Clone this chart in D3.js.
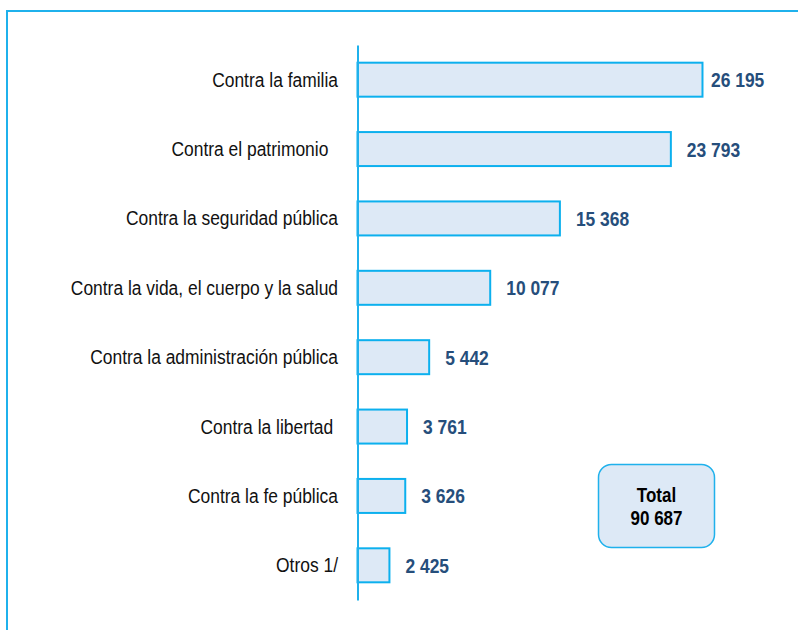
<!DOCTYPE html>
<html><head><meta charset="utf-8">
<script src="https://cdn.jsdelivr.net/npm/d3@7"></script>
<style>html,body{margin:0;padding:0;background:#fff;}svg{display:block;}</style>
</head><body>
<svg id="chart" width="798" height="630"></svg>
<script>
const categories = ["Contra la familia", "Contra el patrimonio  ", "Contra la seguridad pública", "Contra la vida, el cuerpo y la salud", "Contra la administración pública", "Contra la libertad ", "Contra la fe pública", "Otros 1/"];
const values = [26195, 23793, 15368, 10077, 5442, 3761, 3626, 2425];
const valueLabels = ["26 195", "23 793", "15 368", "10 077", "5 442", "3 761", "3 626", "2 425"];
const totalLines = ["Total", "90 687"];

const svg = d3.select("#chart");
const blue = "#1fb1ec";

// frame
svg.append("rect").attr("x", 7).attr("y", 11).attr("width", 820).attr("height", 660)
  .attr("fill", "none").attr("stroke", blue).attr("stroke-width", 2);

const x = d3.scaleLinear().domain([0, 30000]).range([357.5, 752.6]);
const y = d3.scaleBand().domain(categories).range([45, 600]).paddingInner(0.51).paddingOuter(0.255);

const font = "'Liberation Sans', Arial, sans-serif";

// bars
svg.append("g").selectAll("rect").data(values).join("rect")
  .attr("x", x(0))
  .attr("y", (d, i) => y(categories[i]))
  .attr("width", d => x(d) - x(0))
  .attr("height", y.bandwidth())
  .attr("fill", "#dde9f6").attr("stroke", "#0cb0ee").attr("stroke-width", 2);

// axis line
const axis = d3.axisLeft(y).tickSize(0).tickFormat("");
const ag = svg.append("g").attr("transform", `translate(${x(0)},0)`).call(axis);
ag.select(".domain").attr("stroke", blue).attr("stroke-width", 2);

// category labels (narrow)
svg.append("g").selectAll("text").data(categories).join("text")
  .attr("transform", d => `translate(338,${y(d) + y.bandwidth() / 2 + 7}) scale(0.83,1)`)
  .attr("text-anchor", "end")
  .style("white-space", "pre")
  .attr("font-family", font).attr("font-size", 21).attr("fill", "#111")
  .text(d => d);

// value labels
const labelMaxX = 711;
svg.append("g").selectAll("text").data(values).join("text")
  .attr("transform", (d, i) => `translate(${Math.min(x(d) + 16, labelMaxX)},${y(categories[i]) + y.bandwidth() / 2 + 7.5}) scale(0.85,1)`)
  .attr("font-family", font).attr("font-size", 20.5).attr("font-weight", "bold").attr("fill", "#264e7b")
  .text((d, i) => valueLabels[i]);

// total box
svg.append("rect").attr("x", 598.5).attr("y", 464.5).attr("width", 116).attr("height", 83)
  .attr("rx", 13).attr("fill", "#dde9f6").attr("stroke", blue).attr("stroke-width", 1.5);
svg.append("g").selectAll("text").data(totalLines).join("text")
  .attr("transform", (d, i) => `translate(656.5,${501.7 + i * 23.5}) scale(0.85,1)`)
  .attr("text-anchor", "middle")
  .attr("font-family", font).attr("font-size", 20).attr("font-weight", "bold").attr("fill", "#000")
  .text(d => d);
</script>
</body></html>
